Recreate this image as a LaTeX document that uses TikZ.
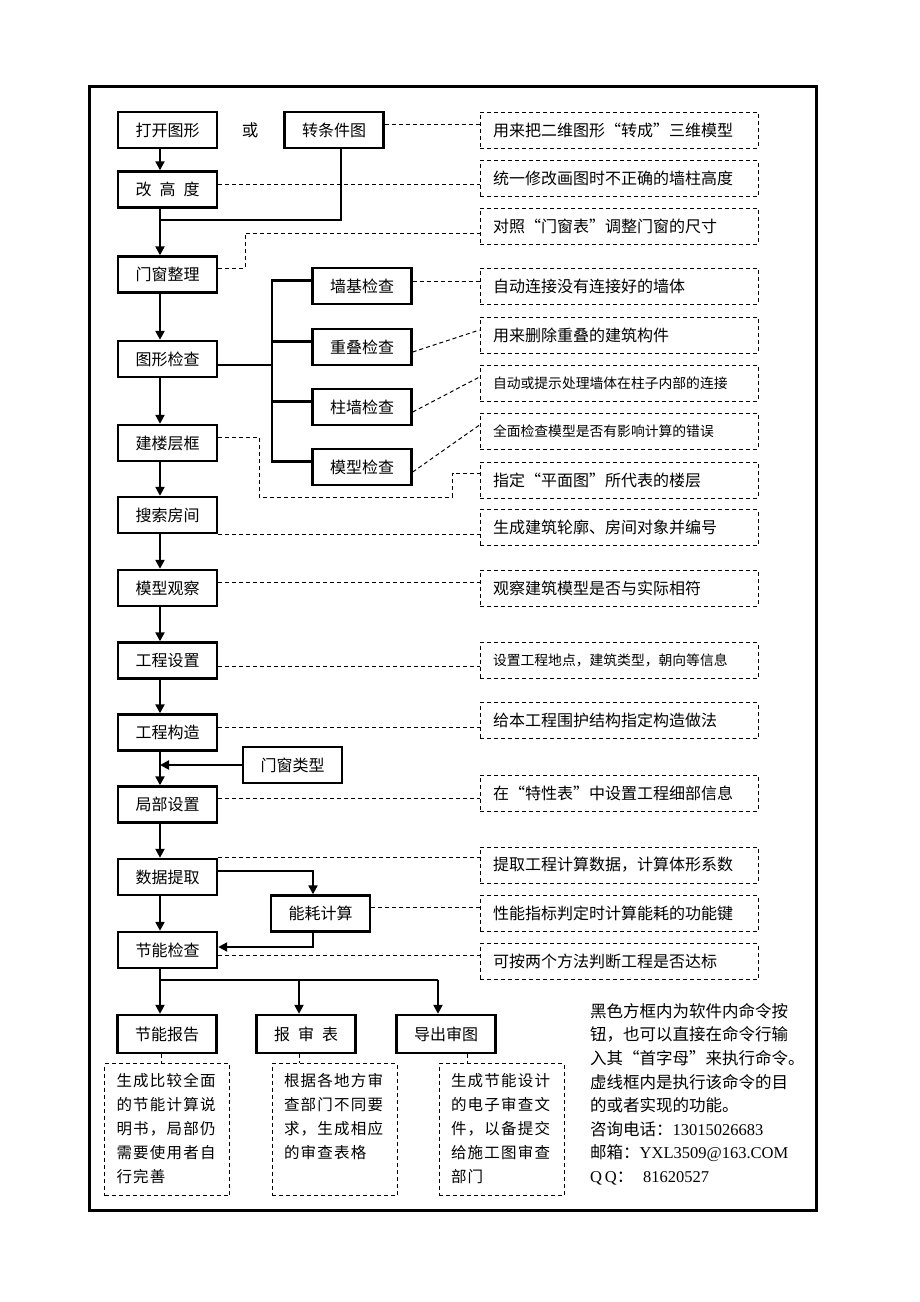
\documentclass[tikz,border=0pt]{standalone}
\usepackage{fontspec}
\setmainfont{Noto Sans CJK SC}
\newfontfamily\latin{Liberation Serif}
\newfontfamily\widecjk[LetterSpace=8]{Noto Sans CJK SC}
\usetikzlibrary{arrows.meta}

\begin{document}
\begin{tikzpicture}[x=1pt, y=-1pt,
    cmd/.style={draw, line width=2.4pt, minimum width=99pt, minimum height=36pt, inner sep=0pt, font=\fontsize{16}{16}\selectfont},
    cmdthin/.style={cmd, line width=1.3pt},
    note/.style={draw, line width=1pt, dash pattern=on 4pt off 3pt, minimum height=36pt, text width=252pt, inner xsep=13pt, inner ysep=0pt, align=left, font=\fontsize{16}{16}\selectfont},
    notesmall/.style={note, font=\fontsize{13.8}{14}\selectfont},
    memo/.style={draw, line width=1pt, dash pattern=on 4pt off 3pt, anchor=north, inner xsep=12pt, inner ysep=10pt, font=\widecjk\fontsize{15.5}{24}\selectfont},
    arr/.style={line width=2.2pt, -{Triangle[length=9pt,width=9pt]}},
    trunk/.style={line width=2.2pt},
    dline/.style={line width=1pt, dash pattern=on 4pt off 3pt}]
    \useasboundingbox (0,0) rectangle (920,1302);
    \draw[line width=3pt] (89,86) rectangle (816,1210);

    \node[cmd] (open) at (167.5,130) {打开图形};
    \node[font=\fontsize{16.5}{16.5}\selectfont] (or) at (250,130) {或};
    \node[cmd] (tcond) at (334,130) {转条件图};
    \node[cmd] (height) at (167.5,189.5) {改\hspace{.5em}高\hspace{.5em}度};
    \node[cmd] (door) at (167.5,274.5) {门窗整理};
    \node[cmd] (check) at (167.5,359) {图形检查};
    \node[cmd] (floor) at (167.5,443) {建楼层框};
    \node[cmd] (room) at (167.5,515) {搜索房间};
    \node[cmd] (view) at (167.5,588) {模型观察};
    \node[cmd] (setting) at (167.5,660.5) {工程设置};
    \node[cmd] (constr) at (167.5,732.5) {工程构造};
    \node[cmd] (local) at (167.5,804.5) {局部设置};
    \node[cmd] (data) at (167.5,877) {数据提取};
    \node[cmd] (chk) at (167.5,950) {节能检查};
    \node[cmd] (wall) at (362,286) {墙基检查};
    \node[cmd] (overlap) at (362,347) {重叠检查};
    \node[cmd] (col) at (362,407) {柱墙检查};
    \node[cmd] (model) at (362,467) {模型检查};
    \node[cmdthin] (doortype) at (292.5,765) {门窗类型};
    \node[cmd] (energy) at (320.5,913.5) {能耗计算};
    \node[cmd, minimum height=38pt] (report) at (167,1034) {节能报告};
    \node[cmd, minimum height=38pt] (tab) at (306,1034) {报\hspace{.5em}审\hspace{.5em}表};
    \node[cmd, minimum height=38pt] (export) at (446,1034) {导出审图};

    \node[note] (d1) at (619,130) {用来把二维图形“转成”三维模型};
    \node[note] (d2) at (619,178.5) {统一修改画图时不正确的墙柱高度};
    \node[note] (d3) at (619,226) {对照“门窗表”调整门窗的尺寸};
    \node[note] (d4) at (619,286) {自动连接没有连接好的墙体};
    \node[note] (d5) at (619,335) {用来删除重叠的建筑构件};
    \node[notesmall] (d6) at (619,383) {自动或提示处理墙体在柱子内部的连接};
    \node[notesmall] (d7) at (619,431) {全面检查模型是否有影响计算的错误};
    \node[note] (d8) at (619,480) {指定“平面图”所代表的楼层};
    \node[note] (d9) at (619,527.5) {生成建筑轮廓、房间对象并编号};
    \node[note] (d10) at (619,588) {观察建筑模型是否与实际相符};
    \node[notesmall] (d11) at (619,660.5) {设置工程地点，建筑类型，朝向等信息};
    \node[note] (d12) at (619,720.5) {给本工程围护结构指定构造做法};
    \node[note] (d13) at (619,793) {在“特性表”中设置工程细部信息};
    \node[note] (d14) at (619,865) {提取工程计算数据，计算体形系数};
    \node[note] (d15) at (619,913.5) {性能指标判定时计算能耗的功能键};
    \node[note] (d16) at (619,961.5) {可按两个方法判断工程是否达标};

    \node[memo] (b1) at (167,1063) {\parbox[c][112pt][t]{101pt}{生成比较全面\\的节能计算说\\明书，局部仍\\需要使用者自\\行完善}};
    \node[memo] (b2) at (334.5,1063) {\parbox[c][112pt][t]{101pt}{根据各地方审\\查部门不同要\\求，生成相应\\的审查表格}};
    \node[memo] (b3) at (501.5,1063) {\parbox[c][112pt][t]{101pt}{生成节能设计\\的电子审查文\\件，以备提交\\给施工图审查\\部门}};

    \node[anchor=north west, align=left, inner sep=0pt, font=\fontsize{16.5}{23.6}\selectfont] (legend) at (590,1003) {黑色方框内为软件内命令按\\钮，也可以直接在命令行输\\入其“首字母”来执行命令。\\虚线框内是执行该命令的目\\的或者实现的功能。\\咨询电话：{\latin 13015026683}\\邮箱：{\latin YXL3509@163.COM}\\{\latin Q\,Q}：\hspace{0.6em}{\latin 81620527}};

    \coordinate (spine) at (160,0);
    \coordinate (join) at (160,220);
    \coordinate (bx) at (272,0);
    \coordinate (fork) at (160,980);
    \coordinate (fork2) at (299,980);
    \coordinate (fork3) at (438,980);

    \draw[arr] (open.south -| spine) -- (height.north -| spine);
    \draw[arr] (height.south -| spine) -- (door.north -| spine);
    \draw[trunk] ([xshift=7pt]tcond.south) |- (join);
    \draw[arr] (door.south -| spine) -- (check.north -| spine);
    \draw[arr] (check.south -| spine) -- (floor.north -| spine);
    \draw[arr] (floor.south -| spine) -- (room.north -| spine);
    \draw[arr] (room.south -| spine) -- (view.north -| spine);
    \draw[arr] (view.south -| spine) -- (setting.north -| spine);
    \draw[arr] (setting.south -| spine) -- (constr.north -| spine);
    \draw[arr] (constr.south -| spine) -- (local.north -| spine);
    \draw[arr] ([xshift=1pt]doortype.west) -- (doortype.west -| spine);
    \draw[arr] (local.south -| spine) -- (data.north -| spine);
    \draw[arr] (data.south -| spine) -- (chk.north -| spine);
    \draw[arr] ([yshift=6pt]data.east) -| ([xshift=-7.5pt]energy.north);
    \draw[arr] ([xshift=-7.5pt]energy.south) |- ([yshift=3pt]chk.east);

    \draw[trunk] ([yshift=-6pt]check.east) -- ([yshift=-6pt]check.east -| bx);
    \draw[trunk] ([yshift=5.5pt]wall.west) -| ([yshift=5.5pt]model.west -| bx) -- ([yshift=5.5pt]model.west);
    \draw[trunk] ([yshift=5.5pt]overlap.west) -- ([yshift=5.5pt]overlap.west -| bx);
    \draw[trunk] ([yshift=5.5pt]col.west) -- ([yshift=5.5pt]col.west -| bx);

    \draw[trunk] (chk.south -| spine) -- (fork) -- (fork3);
    \draw[arr] (fork) -- (fork |- report.north);
    \draw[arr] (fork2) -- (fork2 |- tab.north);
    \draw[arr] (fork3) -- (fork3 |- export.north);

    \draw[dline] ([yshift=6pt]tcond.east) -- ([yshift=6pt]tcond.east -| d1.west);
    \draw[dline] ([yshift=5.5pt]height.east) -- ([yshift=5.5pt]height.east -| d2.west);
    \draw[dline] ([yshift=6.5pt]door.east) -- ++(27,0) |- ([yshift=-7pt]d3.west);
    \draw[dline] ([yshift=5pt]wall.east) -- ([yshift=5pt]wall.east -| d4.west);
    \draw[dline] ([yshift=-5pt]overlap.east) -- ([yshift=5pt]d5.west);
    \draw[dline] ([yshift=-5pt]col.east) -- ([yshift=6pt]d6.west);
    \draw[dline] ([yshift=-5pt]model.east) -- ([yshift=6pt]d7.west);
    \draw[dline] ([yshift=6pt]floor.east) -- ++(41,0) -- ++(0,60) -| ([xshift=-27pt,yshift=7pt]d8.west) -- ([yshift=7pt]d8.west);
    \draw[dline] (room.south east) -- (room.south east -| d9.west);
    \draw[dline] ([yshift=6pt]view.east) -- ([yshift=6pt]view.east -| d10.west);
    \draw[dline] ([yshift=-5.5pt]setting.east) -- ([yshift=-5.5pt]setting.east -| d11.west);
    \draw[dline] ([yshift=5.5pt]constr.east) -- ([yshift=5.5pt]constr.east -| d12.west);
    \draw[dline] ([yshift=6.5pt]local.east) -- ([yshift=6.5pt]local.east -| d13.west);
    \draw[dline] (data.north east) -- (data.north east -| d14.west);
    \draw[dline] ([yshift=6.5pt]energy.east) -- ([yshift=6.5pt]energy.east -| d15.west);
    \draw[dline] ([yshift=-5pt]chk.east) -- ([yshift=-5pt]chk.east -| d16.west);

    \draw[dline] ([xshift=-6pt]report.south) -- ([xshift=-6pt]report.south |- b1.north);
    \draw[dline] ([xshift=-7pt]tab.south) -- ([xshift=-7pt]tab.south |- b2.north);
    \draw[dline] ([xshift=21pt]export.south) -- ([xshift=21pt]export.south |- b3.north);
\end{tikzpicture}
\end{document}
